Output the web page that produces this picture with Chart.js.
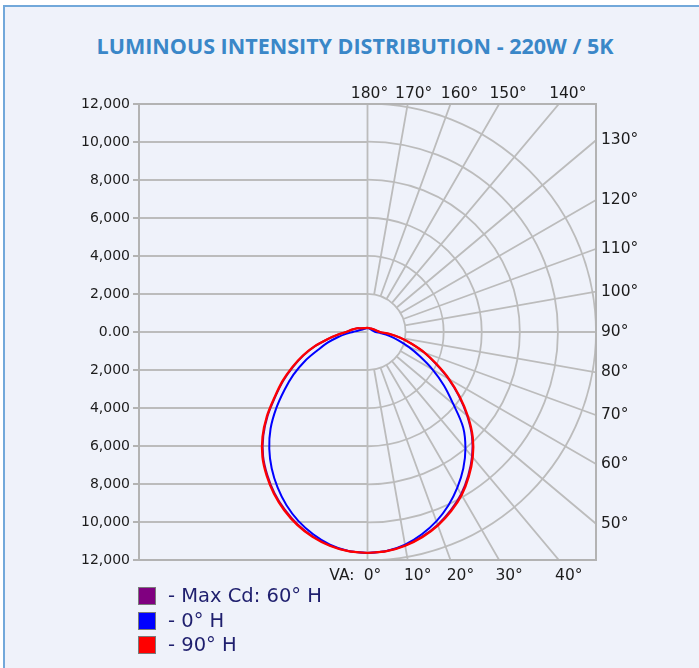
<!DOCTYPE html>
<html>
<head>
<meta charset="utf-8">
<title>Luminous Intensity Distribution</title>
<script src="https://cdn.jsdelivr.net/npm/chart.js@4.4.1/dist/chart.umd.min.js"></script>
<style>
  html, body { margin: 0; padding: 0; background: #ffffff; }
  body { width: 699px; height: 668px; position: relative; overflow: hidden; }
  .panel {
    position: absolute; left: 3px; top: 5px; width: 730px; height: 700px;
    background: #eff2fa; border-left: 2px solid #72a8da; border-top: 2px solid #72a8da;
  }
  .title {
    position: absolute; left: 0; top: 35px; width: 710px; text-align: center;
    font: 700 21.5px/21.5px "Open Sans", sans-serif; color: #3a87c8; white-space: nowrap;
  }
  #chart { position: absolute; left: 0; top: 0; }
  .row { position: absolute; left: 138px; height: 18px; display: flex; align-items: center; }
  .box { width: 16px; height: 16px; border: 1px solid #7a7a7a; }
  .row span {
    margin-left: 12px; font: 19.5px/18px "DejaVu Sans", sans-serif; color: #1f1f6e; white-space: nowrap;
  }
</style>
</head>
<body>
<div class="panel"></div>
<div class="title">LUMINOUS INTENSITY DISTRIBUTION - 220W / 5K</div>
<canvas id="chart" width="699" height="668"></canvas>
<div class="row" style="top:587px"><div class="box" style="background:#800080"></div><span>- Max Cd: 60° H</span></div>
<div class="row" style="top:611.5px"><div class="box" style="background:#0000ff"></div><span>- 0° H</span></div>
<div class="row" style="top:636px"><div class="box" style="background:#ff0000"></div><span>- 90° H</span></div>

<script>
// vertical angles (deg from nadir) at which the candela values were read
const angles = [0, 5, 10, 15, 20, 25, 30, 35, 40, 45, 50, 55, 60, 65, 70, 75, 80, 85, 90,
  100, 110, 120, 135, 150, 165, 180];

// candela, right half of each plane
const maxCd60 = [11630, 11570, 11400, 11140, 10790, 10350, 9840, 9220, 8540, 7760, 6820, 5850, 4900,
  3960, 3170, 2380, 1730, 1140, 640, 460, 375, 315, 255, 228, 216, 212];
const h0 = [11630, 11565, 11360, 11020, 10595, 10065, 9445, 8770, 8000, 7105, 5870, 4900, 3950,
  3050, 2320, 1680, 1160, 710, 420, 315, 260, 235, 215, 205, 200, 200];
const h90 = [11630, 11580, 11420, 11170, 10830, 10400, 9900, 9280, 8600, 7820, 6880, 5900, 4950,
  4000, 3200, 2400, 1750, 1150, 650, 470, 380, 320, 260, 230, 218, 215];

// candela, opposite (left) half of each plane
const maxCd240 = [11630, 11570, 11400, 11130, 10760, 10300, 9780, 9180, 8530, 7740, 6840, 5900, 5100,
  4300, 3570, 2830, 2090, 1530, 1110, 780, 570, 385, 282, 238, 218, 212];
const h180 = [11630, 11565, 11360, 11020, 10595, 10065, 9445, 8770, 8025, 7200, 6260, 5325, 4490,
  3635, 2775, 2170, 1590, 1135, 765, 475, 340, 275, 235, 215, 205, 200];
const h270 = [11630, 11580, 11420, 11160, 10800, 10350, 9830, 9235, 8585, 7800, 6900, 5950, 5150,
  4350, 3610, 2865, 2115, 1550, 1130, 790, 580, 390, 285, 240, 220, 215];

const cdTicks = [0, 2000, 4000, 6000, 8000, 10000, 12000];
const gridAngles = [10, 20, 30, 40, 50, 60, 70, 80, 90, 100, 110, 120, 130, 140, 150, 160, 170];
const topLabels = [180, 170, 160, 150, 140];
const rightLabels = [130, 120, 110, 100, 90, 80, 70, 60, 50];
const bottomLabels = [0, 10, 20, 30, 40];

const rad = d => d * Math.PI / 180;

// right half goes nadir -> zenith, left half comes back zenith -> nadir
function loop(right, left) {
  const pts = [];
  angles.forEach((a, i) => pts.push({ x: right[i] * Math.sin(rad(a)), y: -right[i] * Math.cos(rad(a)) }));
  for (let i = angles.length - 2; i >= 0; i--) {
    const a = angles[i];
    pts.push({ x: -left[i] * Math.sin(rad(a)), y: -left[i] * Math.cos(rad(a)) });
  }
  return pts;
}

const polarGrid = {
  id: 'polarGrid',
  beforeDatasetsDraw(chart) {
    const { ctx, chartArea: a, scales: { x, y } } = chart;
    const cx = x.getPixelForValue(0), cy = y.getPixelForValue(0);
    const r = v => x.getPixelForValue(v) - cx;
    ctx.save();
    ctx.beginPath();
    ctx.rect(a.left, a.top, a.width, a.height);
    ctx.clip();
    ctx.strokeStyle = '#bcbcbc';
    ctx.lineWidth = 1.8;
    ctx.beginPath();
    // left half: plain horizontal lines
    cdTicks.forEach(v => {
      [v, -v].forEach(s => {
        const py = y.getPixelForValue(s);
        ctx.moveTo(a.left, py);
        ctx.lineTo(cx, py);
      });
    });
    ctx.moveTo(cx, a.top);
    ctx.lineTo(cx, a.bottom);
    ctx.stroke();
    // right half: rings and spokes
    cdTicks.slice(1).forEach(v => {
      ctx.beginPath();
      ctx.arc(cx, cy, r(v), -Math.PI / 2, Math.PI / 2);
      ctx.stroke();
    });
    const r0 = r(cdTicks[1]), far = r(30000);
    ctx.beginPath();
    gridAngles.forEach(g => {
      const sx = Math.sin(rad(g)), sy = Math.cos(rad(g));
      ctx.moveTo(cx + r0 * sx, cy + r0 * sy);
      ctx.lineTo(cx + far * sx, cy + far * sy);
    });
    ctx.stroke();
    ctx.restore();
    // frame
    ctx.save();
    ctx.strokeStyle = '#b3b3b3';
    ctx.lineWidth = 2;
    ctx.strokeRect(a.left, a.top, a.width, a.height);
    ctx.restore();
  },
  afterDraw(chart) {
    const { ctx, chartArea: a, scales: { x, y } } = chart;
    const cx = x.getPixelForValue(0), cy = y.getPixelForValue(0);
    ctx.save();
    ctx.font = '15.5px "DejaVu Sans"';
    ctx.fillStyle = '#1c1c1c';
    ctx.textBaseline = 'middle';
    ctx.textAlign = 'center';
    const upR = cy - a.top, downR = a.bottom - cy, sideR = a.right - cx;
    topLabels.forEach(g => {
      const off = g === 180 ? 2 : g === 170 ? 6 : 9;
      ctx.fillText(g + '°', cx + upR * Math.tan(rad(180 - g)) + off, a.top - 10);
    });
    bottomLabels.forEach(g => {
      const off = g === 0 ? 5 : 10;
      ctx.fillText(g + '°', cx + downR * Math.tan(rad(g)) + off, a.bottom + 16);
    });
    ctx.textAlign = 'right';
    ctx.fillText('VA:', cx - 13, a.bottom + 16);
    ctx.textAlign = 'left';
    rightLabels.forEach(g => {
      ctx.fillText(g + '°', a.right + 5, cy - sideR * Math.tan(rad(g - 90)));
    });
    ctx.restore();
  }
};

Chart.defaults.font.family = '"DejaVu Sans", sans-serif';

new Chart(document.getElementById('chart'), {
  type: 'scatter',
  data: {
    datasets: [
      { label: 'Max Cd: 60° H', data: loop(maxCd60, maxCd240), borderColor: '#800080', borderWidth: 2, order: 1 },
      { label: '0° H', data: loop(h0, h180), borderColor: '#0000ff', borderWidth: 2, order: 2 },
      { label: '90° H', data: loop(h90, h270), borderColor: '#ff0000', borderWidth: 2.2, order: 0 }
    ].map(d => Object.assign(d, { showLine: true, pointRadius: 0, fill: false, tension: 0.35 }))
  },
  options: {
    responsive: false,
    animation: false,
    layout: { padding: { left: 79, right: 103, top: 104, bottom: 108 } },
    plugins: { legend: { display: false }, tooltip: { enabled: false } },
    scales: {
      x: { type: 'linear', min: -12000, max: 12000, display: false },
      y: {
        type: 'linear', min: -12000, max: 12000,
        afterFit: s => { s.width = 60; },
        border: { display: false },
        grid: { drawOnChartArea: false, drawTicks: true, tickLength: 6, color: '#b3b3b3', lineWidth: 2 },
        ticks: {
          stepSize: 2000, padding: 3, color: '#1c1c1c', font: { size: 14 },
          callback: v => v === 0 ? '0.00' : Math.abs(v).toLocaleString('en-US')
        }
      }
    }
  },
  plugins: [polarGrid]
});
</script>
</body>
</html>
